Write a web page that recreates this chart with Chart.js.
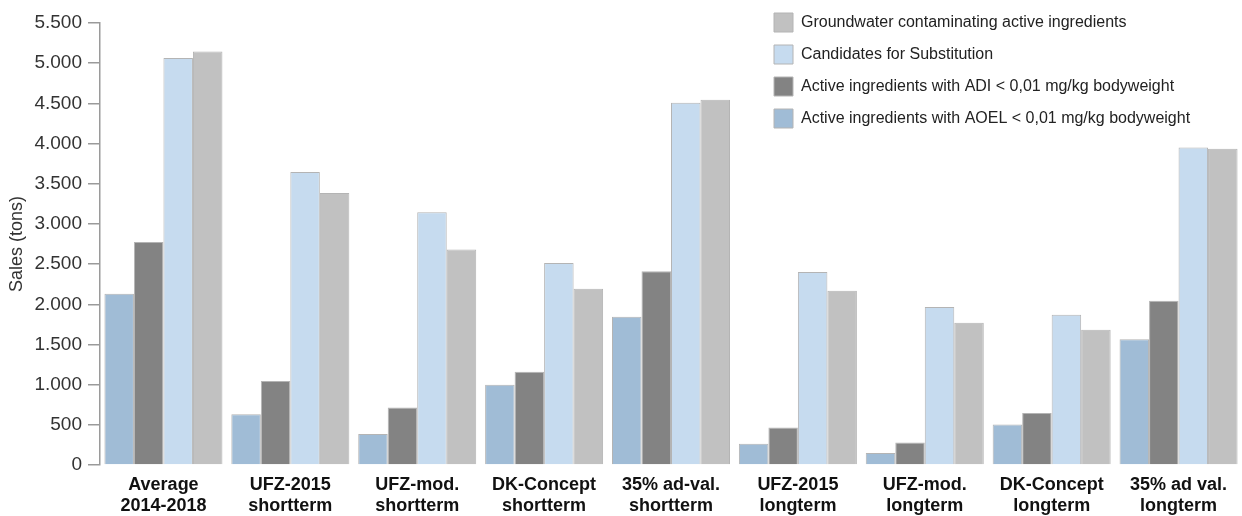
<!DOCTYPE html>
<html>
<head>
<meta charset="utf-8">
<title>Sales (tons)</title>
<script src="https://cdn.jsdelivr.net/npm/chart.js@4.4.1/dist/chart.umd.min.js"></script>
<style>
    html, body { margin: 0; padding: 0; background: #fff; }
    #salesChart { display: block; }
</style>
</head>
<body>
<canvas id="salesChart" width="1242" height="516"></canvas>
<script>
const categories = [
    ['Average', '2014-2018'],
    ['UFZ-2015', 'shortterm'],
    ['UFZ-mod.', 'shortterm'],
    ['DK-Concept', 'shortterm'],
    ['35% ad-val.', 'shortterm'],
    ['UFZ-2015', 'longterm'],
    ['UFZ-mod.', 'longterm'],
    ['DK-Concept', 'longterm'],
    ['35% ad val.', 'longterm'],
];

const seriesNames = [
    'Active ingredients with AOEL < 0,01 mg/kg bodyweight',
    'Active ingredients with ADI < 0,01 mg/kg bodyweight',
    'Candidates for Substitution',
    'Groundwater contaminating active ingredients',
];

const aoelValues = [2130, 630, 385, 1000, 1845, 265, 150, 505, 1565];
const adiValues = [2775, 1045, 715, 1160, 2410, 468, 281, 647, 2044];
const candidateValues = [5065, 3645, 3145, 2513, 4507, 2401, 1966, 1870, 3951];
const groundwaterValues = [5145, 3384, 2683, 2193, 4545, 2168, 1770, 1683, 3935];

const yTicks = [0, 500, 1000, 1500, 2000, 2500, 3000, 3500, 4000, 4500, 5000, 5500];

const seriesColors = ['#a0bcd6', '#838383', '#c6dbef', '#c1c1c1'];

Chart.defaults.font.family = "'Liberation Sans', Arial, sans-serif";

const formatThousands = function (value) {
    return String(value).replace(/\B(?=(\d{3})+(?!\d))/g, '.');
}

const makeDataset = function (i, values) {
    return {
        label: seriesNames[i],
        data: values,
        backgroundColor: seriesColors[i],
        borderColor: '#b4b4b4',
        borderWidth: 1,
        barPercentage: 1,
        categoryPercentage: 0.93,
    };
}

// the legend sits inside the plot, top right, like in the original figure
const legendPlacer = {
    id: 'legendPlacer',
    afterLayout: function (chart) {
        const legend = chart.legend;
        legend.left = 761;
        legend.top = 0;
        legend.right = legend.left + legend.width + 40;
        legend.bottom = legend.top + legend.height + 40;
    }
};

const ctx = document.getElementById('salesChart').getContext('2d');
const config = {
    type: 'bar',
    data: {
        labels: categories,
        datasets: [
            makeDataset(0, aoelValues),
            makeDataset(1, adiValues),
            makeDataset(2, candidateValues),
            makeDataset(3, groundwaterValues),
        ],
    },
    options: {
        responsive: false,
        animation: false,
        layout: {
            padding: {top: 23, right: 0, bottom: 0, left: 0}
        },
        plugins: {
            legend: {
                position: 'chartArea',
                align: 'start',
                reverse: true,
                labels: {
                    boxWidth: 19,
                    boxHeight: 19,
                    padding: 13,
                    color: '#222',
                    font: {size: 16, lineHeight: 1.2},
                },
            },
            tooltip: {enabled: false},
        },
        scales: {
            x: {
                grid: {display: false, drawTicks: false},
                border: {display: false},
                ticks: {
                    color: '#111',
                    padding: 9,
                    maxRotation: 0,
                    autoSkip: false,
                    font: {size: 18, weight: 'bold', lineHeight: 1.2},
                },
                afterFit: function (scale) {
                    scale.height = 51;
                },
            },
            y: {
                min: 0,
                max: 5500,
                afterBuildTicks: function (scale) {
                    scale.ticks = yTicks.map(v => ({value: v}));
                },
                grid: {
                    drawOnChartArea: false,
                    drawTicks: true,
                    tickLength: 12,
                    color: '#9a9a9a',
                    lineWidth: 1.5,
                },
                border: {display: true, color: '#9a9a9a', width: 1.5},
                ticks: {
                    color: '#333',
                    padding: 6,
                    font: {size: 19},
                    callback: function (value) {
                        return formatThousands(value);
                    },
                },
                title: {
                    display: true,
                    text: 'Sales (tons)',
                    color: '#333',
                    font: {size: 18},
                    padding: {top: 6, bottom: 0},
                },
                afterFit: function (scale) {
                    scale.width = 100;
                },
            },
        },
    },
    plugins: [legendPlacer],
};
const myChart = new Chart(ctx, config);
</script>
</body>
</html>
